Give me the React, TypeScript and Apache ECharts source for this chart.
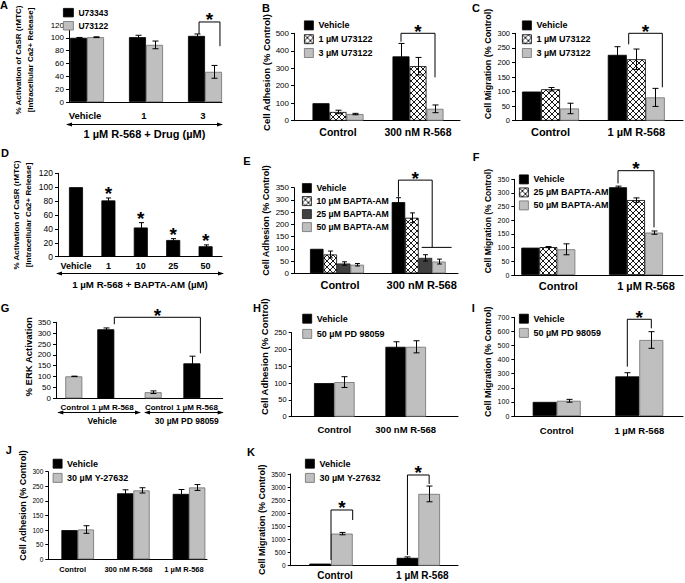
import React, { useEffect, useRef } from 'react';
import * as echarts from 'echarts';

const FONT = '"Liberation Sans", Arial, Helvetica, sans-serif';
const W = 685;
const H = 583;

// ---------------- DATA ----------------
// A: CaSR activation, U73343 vs U73122
const aCats = ['Vehicle', '1', '3'];
const aU73343 = [100, 101, 103];
const aU73343Err = [0.6, 3, 3];
const aU73122 = [101, 89, 47];
const aU73122Err = [0.6, 6, 10];

// B: Cell adhesion, U73122
const bCats = ['Control', '300 nM R-568'];
const bVehicle = [100, 368];
const bVehicleErr = [0, 74];
const b1uM = [50, 312];
const b1uMErr = [10, 50];
const b3uM = [38, 68];
const b3uMErr = [4, 22];

// C: Cell migration, U73122
const cCats = ['Control', '1 µM R-568'];
const cVehicle = [100, 226];
const cVehicleErr = [0, 28];
const c1uM = [108, 211];
const c1uMErr = [6, 35];
const c3uM = [42, 80];
const c3uMErr = [18, 31];

// D: CaSR activation, BAPTA-AM
const dCats = ['Vehicle', '1', '10', '25', '50'];
const dValues = [100, 81, 42, 24, 15];
const dErr = [0, 3.5, 7, 2, 2];
const dSignificant = [false, true, true, true, true];

// E: Cell adhesion, BAPTA-AM
const eCats = ['Control', '300 nM R-568'];
const eVehicle = [100, 291];
const eVehicleErr = [0, 18];
const e10 = [77, 227];
const e10Err = [14, 20];
const e25 = [40, 63];
const e25Err = [7, 13];
const e50 = [35, 48];
const e50Err = [5, 10];

// F: Cell migration, BAPTA-AM
const fCats = ['Control', '1 µM R-568'];
const fVehicle = [100, 321];
const fVehicleErr = [0, 4];
const f25 = [102, 274];
const f25Err = [2, 8];
const f50 = [94, 155];
const f50Err = [20, 6];

// G: ERK activation
const gCats = ['Control', '1 µM R-568', 'Control', '1 µM R-568'];
const gGroups = ['Vehicle', '30 µM PD 98059'];
const gValues = [101, 318, 28, 161];
const gErr = [1, 6, 6, 33];

// H: Cell adhesion, PD 98059
const hCats = ['Control', '300 nM R-568'];
const hVehicle = [100, 208];
const hVehicleErr = [0, 15];
const hPD = [103, 208];
const hPDErr = [16, 18];

// I: Cell migration, PD 98059
const iCats = ['Control', '1 µM R-568'];
const iVehicle = [100, 281];
const iVehicleErr = [0, 26];
const iPD = [108, 539];
const iPDErr = [10, 59];

// J: Cell adhesion, Y-27632
const jCats = ['Control', '300 nM R-568', '1 µM R-568'];
const jVehicle = [100, 226, 224];
const jVehicleErr = [0, 12, 15];
const jY = [102, 236, 246];
const jYErr = [13, 9, 10];

// K: Cell migration, Y-27632
const kCats = ['Control', '1 µM R-568'];
const kVehicle = [80, 300];
const kVehicleErr = [0, 35];
const kY = [1225, 2740];
const kYErr = [45, 300];

// ---------------- PANEL SPECS ----------------
type Kind = 'black' | 'gray' | 'dark' | 'hatch';

const ADH = 'Cell Adhesion (% Control)';
const MIG = 'Cell Migration (% Control)';

const panels: any[] = [
  {
    letter: 'A', cats: aCats, yMax: 120, yInterval: 20,
    yName: '% Activation of CaSR (rMTC)\n[Intracellular Ca2+ Release]',
    series: [
      { name: 'U73343', kind: 'black', values: aU73343, errors: aU73343Err },
      { name: 'U73122', kind: 'gray', values: aU73122, errors: aU73122Err },
    ],
    brackets: [{ l: [2, 0.15], r: [2, 1.38], top: 124.7, lb: 106, rb: 87 }],
    axisTitle: '1 µM R-568 + Drug (µM)',
    L: { left: 69, right: 222, top: 25, bottom: 102, c0: 87, step: 59, bw: 17,
      tickFont: 8, catFont: 9.5, labelDy: 13.7, labelDx: -2, nameGap: 33, nameFont: 8, nameLH: 12, nameUp: 3.5,
      leg: { left: 63, top: 8, w: 10, h: 8.5, spacing: 12.3, font: 8.5 }, letterXY: [4, 5],
      arrowDy: 22, arrowX: [-2, 0], titleDy: 32, titleFont: 11 },
  },
  {
    letter: 'B', cats: bCats, yMax: 500, yInterval: 100, yName: ADH,
    series: [
      { name: 'Vehicle', kind: 'black', values: bVehicle, errors: bVehicleErr },
      { name: '1 µM U73122', kind: 'hatch', values: b1uM, errors: b1uMErr },
      { name: '3 µM U73122', kind: 'gray', values: b3uM, errors: b3uMErr },
    ],
    brackets: [{ l: [1, 0], r: [1, 2], top: 500, lb: 452, rb: 248 }],
    L: { left: 294, right: 460, top: 33.3, bottom: 120.7, c0: 338, step: 80, bw: 17,
      tickFont: 8, catFont: 10.5, labelDy: 11.6, labelDx: 0, nameGap: 16, nameFont: 9.5, nameUp: 4.5,
      leg: { left: 304, top: 20.5, w: 9, h: 9, spacing: 13, font: 9 }, letterXY: [266, 8] },
  },
  {
    letter: 'C', cats: cCats, yMax: 300, yInterval: 50, yName: MIG,
    series: [
      { name: 'Vehicle', kind: 'black', values: cVehicle, errors: cVehicleErr },
      { name: '1 µM U73122', kind: 'hatch', values: c1uM, errors: c1uMErr },
      { name: '3 µM U73122', kind: 'gray', values: c3uM, errors: c3uMErr },
    ],
    brackets: [{ l: [1, 0.6], r: [1, 2.37], top: 300, lb: 262, rb: 114.6 }],
    L: { left: 515, right: 683, top: 33.3, bottom: 120.7, c0: 550.5, step: 85.8, bw: 19,
      tickFont: 7.5, catFont: 11, labelDy: 11.6, labelDx: 0, nameGap: 22, nameFont: 9, nameUp: 13,
      leg: { left: 522, top: 20.5, w: 9, h: 9, spacing: 13, font: 9 }, letterXY: [476, 8.3] },
  },
  {
    letter: 'D', cats: dCats, yMax: 120, yInterval: 20,
    yName: '% Activation of CaSR (rMTC)\n[Intracellular Ca2+ Release]',
    series: [{ name: 'BAPTA-AM', kind: 'black', values: dValues, errors: dErr }],
    stars: dSignificant, noLegend: true,
    axisTitle: '1 µM R-568 + BAPTA-AM (µM)',
    L: { left: 58, right: 222, top: 173.3, bottom: 256.7, c0: 76, step: 32.4, bw: 14,
      tickFont: 8.5, catFont: 9, labelDy: 9.3, labelDx: 0, nameGap: 24, nameFont: 8, nameLH: 12, nameUp: 0,
      letterXY: [5, 153.3], arrowDy: 16.6, arrowX: [-1, 1], titleDy: 27.3, titleFont: 9.7 },
  },
  {
    letter: 'E', cats: eCats, yMax: 350, yInterval: 50, yName: ADH,
    series: [
      { name: 'Vehicle', kind: 'black', values: eVehicle, errors: eVehicleErr },
      { name: '10 µM BAPTA-AM', kind: 'hatch', values: e10, errors: e10Err },
      { name: '25 µM BAPTA-AM', kind: 'dark', values: e25, errors: e25Err },
      { name: '50 µM BAPTA-AM', kind: 'gray', values: e50, errors: e50Err },
    ],
    brackets: [{ l: [1, 0], r: [1, 2.5], top: 381, lb: 313, rb: 106, extra: [1.72, 3.94] }],
    L: { left: 294, right: 458, top: 187.7, bottom: 273.3, c0: 337, step: 81.7, bw: 13.5,
      tickFont: 8, catFont: 11, labelDy: 11.7, labelDx: 3, nameGap: 15, nameFont: 9, nameUp: 10,
      leg: { left: 302, top: 183.2, w: 9, h: 9, spacing: 12.2, font: 8.7 }, letterXY: [247, 160.7] },
  },
  {
    letter: 'F', cats: fCats, yMax: 350, yInterval: 50, yName: MIG,
    series: [
      { name: 'Vehicle', kind: 'black', values: fVehicle, errors: fVehicleErr },
      { name: '25 µM BAPTA-AM', kind: 'hatch', values: f25, errors: f25Err },
      { name: '50 µM BAPTA-AM', kind: 'gray', values: f50, errors: f50Err },
    ],
    brackets: [{ l: [1, 0], r: [1, 2], top: 381.5, lb: 335, rb: 174 }],
    L: { left: 514.3, right: 683, top: 179.3, bottom: 275, c0: 548.3, step: 87.7, bw: 18,
      tickFont: 7, catFont: 11, labelDy: 10.7, labelDx: 10, nameGap: 15, nameFont: 8.5, nameUp: 6,
      leg: { left: 519, top: 174.5, w: 9, h: 9, spacing: 12.2, font: 9 }, letterXY: [476, 156.7] },
  },
  {
    letter: 'G', cats: gCats, yMax: 350, yInterval: 50, yName: '% ERK Activation',
    series: [{ name: 'ERK', kinds: ['gray', 'black', 'gray', 'black'], kind: 'black', values: gValues, errors: gErr }],
    pos: [0, 1, 2.48, 3.69], noLegend: true,
    brackets: [{ l: [1, 0.5], r: [3, 0.5], top: 373, lb: 341, rb: 207 }],
    groups: gGroups,
    L: { left: 56, right: 222.7, top: 322.3, bottom: 398.3, c0: 73.8, step: 32, bw: 17,
      tickFont: 8, catFont: 8, labelDy: 9, labelDx: [1, 7, 6, 5], nameGap: 17.7, nameFont: 9.5, nameUp: 3.5,
      letterXY: [5, 308.3], groupLines: [[58.3, 140], [145, 222.7]], groupLineDy: 13.4,
      groupLabelDy: 22.7, groupLabelDx: 3, groupFont: 8.5 },
  },
  {
    letter: 'H', cats: hCats, yMax: 250, yInterval: 50, yName: ADH,
    series: [
      { name: 'Vehicle', kind: 'black', values: hVehicle, errors: hVehicleErr },
      { name: '50 µM PD 98059', kind: 'gray', values: hPD, errors: hPDErr },
    ],
    L: { left: 291.7, right: 458, top: 332.7, bottom: 416.7, c0: 334.3, step: 71.4, bw: 20.3,
      tickFont: 7.5, catFont: 9.5, labelDy: 12.6, labelDx: 0, nameGap: 18, nameFont: 9.5, nameUp: 18,
      leg: { left: 302.3, top: 313.8, w: 9, h: 9, spacing: 14.4, font: 9 }, letterXY: [257, 307.7] },
  },
  {
    letter: 'I', cats: iCats, yMax: 700, yInterval: 100, yName: MIG,
    series: [
      { name: 'Vehicle', kind: 'black', values: iVehicle, errors: iVehicleErr },
      { name: '50 µM PD 98059', kind: 'gray', values: iPD, errors: iPDErr },
    ],
    brackets: [{ l: [1, 0], r: [1, 1], top: 686, lb: 350, rb: 622 }],
    L: { left: 514.3, right: 683, top: 317.3, bottom: 416, c0: 556.7, step: 82.6, bw: 24,
      tickFont: 7, catFont: 9.5, labelDy: 14, labelDx: 0, nameGap: 21, nameFont: 9, nameUp: 5,
      leg: { left: 519, top: 313.8, w: 9, h: 9, spacing: 13.4, font: 9 }, letterXY: [473.3, 308.3] },
  },
  {
    letter: 'J', cats: jCats, yMax: 300, yInterval: 50, yName: ADH,
    series: [
      { name: 'Vehicle', kind: 'black', values: jVehicle, errors: jVehicleErr },
      { name: '30 µM Y-27632', kind: 'gray', values: jY, errors: jYErr },
    ],
    L: { left: 48.3, right: 207, top: 471.7, bottom: 565.7, c0: 77.7, step: 55.65, bw: 16.3,
      tickFont: 6.5, catFont: 7.5, labelDy: 10, labelDx: -5, nameGap: 11.6, nameFont: 9, nameUp: 10,
      leg: { left: 52.7, top: 458.8, w: 9, h: 9, spacing: 13.4, font: 9 }, letterXY: [8.7, 450] },
  },
  {
    letter: 'K', cats: kCats, yMax: 3500, yInterval: 500, yName: MIG,
    series: [
      { name: 'Vehicle', kind: 'black', values: kVehicle, errors: kVehicleErr },
      { name: '30 µM Y-27632', kind: 'gray', values: kY, errors: kYErr },
    ],
    brackets: [
      { l: [0, 0.5], r: [0, 1.5], top: 2126, lb: 218, rb: 1744 },
      { l: [1, 0], r: [1, 1], top: 3462, lb: 408, rb: 3118 },
    ],
    L: { left: 290.7, right: 458, top: 474, bottom: 565.7, c0: 331, step: 87.3, bw: 21.7,
      tickFont: 6.5, catFont: 10, labelDy: 10, labelDx: 4, nameGap: 14, nameFont: 9, nameUp: 0,
      leg: { left: 305, top: 458.8, w: 9, h: 9, spacing: 13.4, font: 9 }, letterXY: [251, 452] },
  },
];

// ---------------- HELPERS ----------------
function makeHatch() {
  const size = 6;
  const c = document.createElement('canvas');
  c.width = size;
  c.height = size;
  const ctx = c.getContext('2d')!;
  ctx.fillStyle = '#ffffff';
  ctx.fillRect(0, 0, size, size);
  ctx.strokeStyle = '#000000';
  ctx.lineWidth = 0.9;
  ctx.beginPath();
  ctx.moveTo(-1, -1);
  ctx.lineTo(size + 1, size + 1);
  ctx.moveTo(size + 1, -1);
  ctx.lineTo(-1, size + 1);
  ctx.stroke();
  return { image: c, repeat: 'repeat', imageWidth: size, imageHeight: size };
}

function fillStyle(kind: Kind, pattern: any) {
  switch (kind) {
    case 'black':
      return { color: '#000000', borderColor: '#000000', borderWidth: 0.8 };
    case 'gray':
      return { color: '#bfbfbf', borderColor: '#6e6e6e', borderWidth: 0.8 };
    case 'dark':
      return { color: '#404040', borderColor: '#1a1a1a', borderWidth: 0.8 };
    default:
      return { color: pattern, borderColor: '#000000', borderWidth: 0.8 };
  }
}

function positions(p: any) {
  return p.pos || p.cats.map((_: any, i: number) => i);
}

function xExtent(p: any) {
  const L = p.L;
  const pos = positions(p);
  const last = pos[pos.length - 1];
  const min = -(L.c0 - L.left) / L.step;
  const max = last + (L.right - (L.c0 + last * L.step)) / L.step;
  return [min, max];
}

function textEl(text: string, x: number, y: number, size: number, weight = 'bold') {
  return {
    type: 'text',
    x,
    y,
    style: {
      text,
      fill: '#000',
      font: `${weight} ${size}px ${FONT}`,
      align: 'center',
      verticalAlign: 'middle',
      textAlign: 'center',
      textVerticalAlign: 'middle',
    },
  };
}

function lineEl(x1: number, y1: number, x2: number, y2: number, w = 1) {
  return { type: 'line', shape: { x1, y1, x2, y2 }, style: { stroke: '#000', lineWidth: w } };
}

function arrowHead(x: number, y: number, dir: number) {
  const len = 5;
  const half = 2;
  return {
    type: 'polygon',
    shape: { points: [[x + dir * 1, y], [x - dir * len, y - half], [x - dir * len, y + half]] },
    style: { fill: '#000' },
  };
}

function overlaySeries(p: any, idx: number) {
  const L = p.L;
  const pos = positions(p);
  const [xmin, xmax] = xExtent(p);
  return {
    type: 'custom',
    name: 'overlay' + p.letter,
    coordinateSystem: 'cartesian2d',
    xAxisIndex: idx,
    yAxisIndex: idx,
    silent: true,
    clip: false,
    z: 10,
    data: [[0, 0]],
    renderItem: (_params: any, api: any) => {
      const ch: any[] = [];
      const n = p.series.length;
      const bx = (cat: number, s: number) => api.coord([pos[cat], 0])[0] + (s - (n - 1) / 2) * L.bw;
      const py = (v: number) => api.coord([pos[0], v])[1];
      const y0 = py(0);
      const cap = Math.min(3, L.bw * 0.18);

      // error bars
      p.series.forEach((se: any, si: number) => {
        se.values.forEach((v: number, ci: number) => {
          const e = se.errors[ci];
          if (!e) return;
          const x = Math.round(bx(ci, si)) + 0.5;
          const yt = py(v + e);
          const yb = py(Math.max(0, v - e));
          ch.push(lineEl(x, yt, x, yb), lineEl(x - cap, yt, x + cap, yt), lineEl(x - cap, yb, x + cap, yb));
        });
      });

      // significance brackets
      (p.brackets || []).forEach((b: any) => {
        const x1 = bx(b.l[0], b.l[1]);
        const x2 = bx(b.r[0], b.r[1]);
        const yt = py(b.top);
        ch.push({
          type: 'polyline',
          shape: { points: [[x1, py(b.lb)], [x1, yt], [x2, yt], [x2, py(b.rb)]] },
          style: { stroke: '#000', fill: null, lineWidth: 1 },
        });
        if (b.extra) {
          ch.push(lineEl(bx(b.r[0], b.extra[0]), py(b.rb), bx(b.r[0], b.extra[1]), py(b.rb)));
        }
        ch.push(textEl('*', (x1 + x2) / 2, yt - 2, 19));
      });

      // per-bar significance stars (D)
      if (p.stars) {
        const se = p.series[0];
        p.stars.forEach((sig: boolean, ci: number) => {
          if (!sig) return;
          ch.push(textEl('*', bx(ci, 0), py(se.values[ci] + se.errors[ci]) - 4, 19));
        });
      }

      // category labels
      p.cats.forEach((c: string, ci: number) => {
        const dx = Array.isArray(L.labelDx) ? L.labelDx[ci] : L.labelDx || 0;
        ch.push(textEl(c, api.coord([pos[ci], 0])[0] + dx, y0 + L.labelDy, L.catFont));
      });

      // arrow axis title (A, D)
      if (p.axisTitle) {
        const xa = api.coord([xmin, 0])[0] + L.arrowX[0];
        const xb = api.coord([xmax, 0])[0] + L.arrowX[1];
        const ya = Math.round(y0 + L.arrowDy) + 0.5;
        ch.push(lineEl(xa, ya, xb, ya), arrowHead(xa, ya, -1), arrowHead(xb, ya, 1));
        ch.push(textEl(p.axisTitle, (xa + xb) / 2, y0 + L.titleDy, L.titleFont));
      }

      // group lines (G)
      if (p.groups) {
        p.groups.forEach((g: string, gi: number) => {
          const [xa, xb] = L.groupLines[gi];
          const ya = Math.round(y0 + L.groupLineDy) + 0.5;
          ch.push(lineEl(xa, ya, xb, ya), arrowHead(xa, ya, -1), arrowHead(xb, ya, 1));
          ch.push(textEl(g, (xa + xb) / 2 + L.groupLabelDx, y0 + L.groupLabelDy, L.groupFont));
        });
      }
      return { type: 'group', children: ch };
    },
  };
}

function buildOption(pattern: any) {
  const grid: any[] = [];
  const xAxis: any[] = [];
  const yAxis: any[] = [];
  const series: any[] = [];
  const legend: any[] = [];
  const graphic: any[] = [];

  panels.forEach((p, idx) => {
    const L = p.L;
    const pos = positions(p);
    const [xmin, xmax] = xExtent(p);
    const up = L.nameUp || 0;
    grid.push({ left: L.left, top: L.top, width: L.right - L.left, height: L.bottom - L.top, containLabel: false });
    xAxis.push({
      gridIndex: idx, type: 'value', min: xmin, max: xmax,
      axisLine: { show: true, onZero: false, lineStyle: { color: '#000', width: 1 } },
      axisTick: { show: false }, axisLabel: { show: false }, splitLine: { show: false },
    });
    yAxis.push({
      gridIndex: idx, type: 'value', min: 0, max: p.yMax, interval: p.yInterval,
      axisLine: { show: true, onZero: false, lineStyle: { color: '#000', width: 1 } },
      axisTick: { show: true, length: 3, lineStyle: { color: '#000' } },
      axisLabel: {
        fontSize: L.tickFont, color: '#000', fontFamily: FONT, margin: 5,
        formatter: (v: number) => String(v),
      },
      splitLine: { show: false },
      name: p.yName, nameLocation: 'middle', nameRotate: 90, nameGap: L.nameGap,
      nameTextStyle: {
        fontFamily: FONT, fontWeight: 'bold', fontSize: L.nameFont, color: '#000',
        lineHeight: L.nameLH || L.nameFont + 2,
        padding: up >= 0 ? [0, 0, 0, 2 * up] : [0, -2 * up, 0, 0],
      },
    });
    p.series.forEach((se: any) => {
      series.push({
        type: 'bar', name: se.name, xAxisIndex: idx, yAxisIndex: idx,
        barWidth: L.bw, barGap: '0%', silent: true, z: 2,
        itemStyle: fillStyle(se.kind, pattern),
        data: se.values.map((v: number, ci: number) =>
          se.kinds
            ? { value: [pos[ci], v], itemStyle: fillStyle(se.kinds[ci], pattern) }
            : [pos[ci], v]),
      });
    });
    series.push(overlaySeries(p, idx));
    if (!p.noLegend) {
      legend.push({
        orient: 'vertical', left: L.leg.left, top: L.leg.top, padding: 0,
        itemWidth: L.leg.w, itemHeight: L.leg.h, itemGap: L.leg.spacing - L.leg.h,
        icon: 'rect', selectedMode: false,
        textStyle: { fontFamily: FONT, fontWeight: 'bold', fontSize: L.leg.font, color: '#000', lineHeight: L.leg.h },
        data: p.series.map((se: any) => ({ name: se.name, itemStyle: fillStyle(se.kind, pattern) })),
      });
    }
    graphic.push({
      type: 'text', x: L.letterXY[0], y: L.letterXY[1], z: 100,
      style: {
        text: p.letter, fill: '#000', font: `bold 11px ${FONT}`,
        align: 'center', verticalAlign: 'middle', textAlign: 'center', textVerticalAlign: 'middle',
      },
    });
  });

  return {
    animation: false,
    backgroundColor: '#ffffff',
    textStyle: { fontFamily: FONT },
    grid, xAxis, yAxis, series, legend, graphic,
  };
}

export default function App() {
  const ref = useRef<HTMLDivElement>(null);
  useEffect(() => {
    document.body.style.margin = '0';
    if (!ref.current) return;
    const chart = echarts.init(ref.current, null, { renderer: 'svg', width: W, height: H });
    chart.setOption(buildOption(makeHatch()));
    return () => chart.dispose();
  }, []);
  return (
    <div
      ref={ref}
      style={{ position: 'fixed', left: 0, top: 0, width: W, height: H, background: '#fff' }}
    />
  );
}
